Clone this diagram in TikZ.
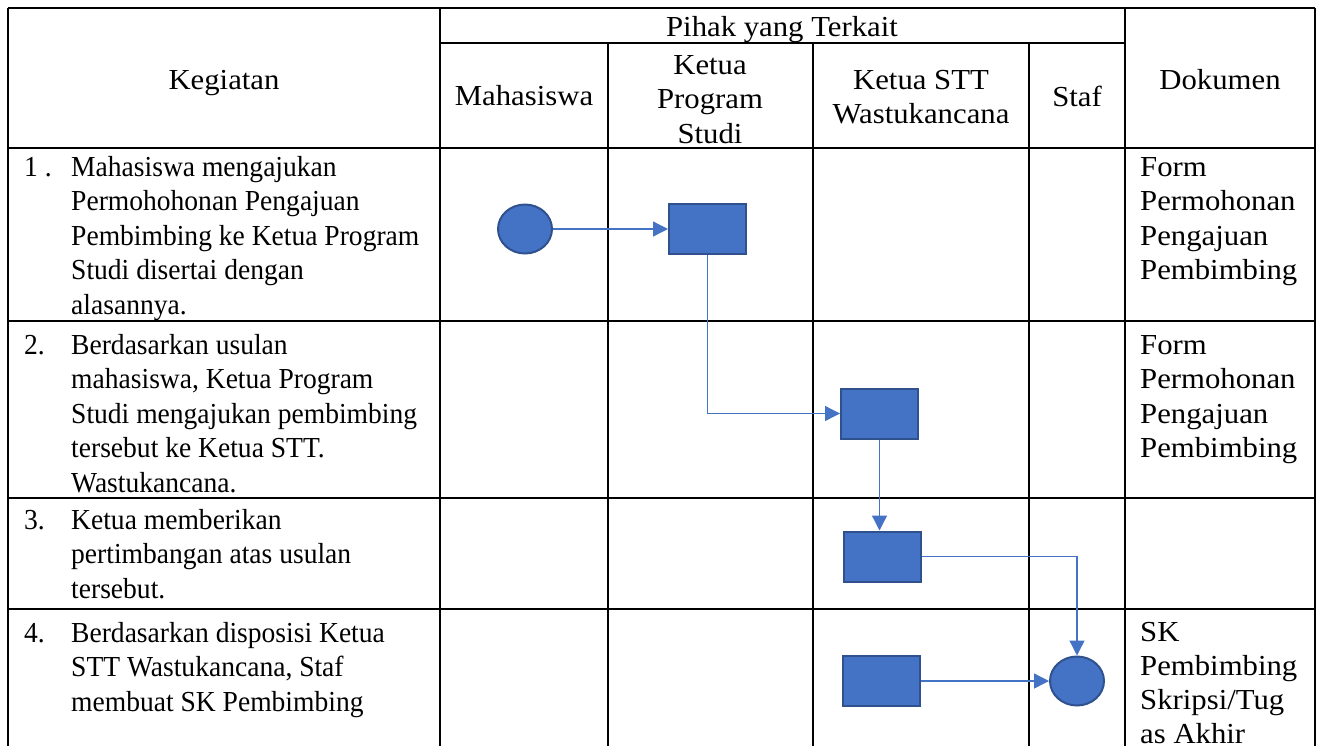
\documentclass[tikz,border=0pt]{standalone}
\usepackage{fontspec}
\setmainfont{Liberation Serif}[FakeStretch=0.95]
\newfontfamily\widefont{Liberation Serif}[FakeStretch=1.06]
\usetikzlibrary{arrows.meta,shapes.geometric}
\definecolor{shapefill}{HTML}{4472C4}
\definecolor{shapeedge}{HTML}{2F528F}
\definecolor{connclr}{HTML}{4472C4}
\newcommand{\cellL}[1]{\begin{tabular}[t]{@{}l@{}}#1\end{tabular}}
\newcommand{\cellC}[1]{\begin{tabular}[t]{@{}c@{}}#1\end{tabular}}
\begin{document}
\begin{tikzpicture}[x=1pt,y=-1pt,
  grid/.style={line width=2.6pt,black},
  proc/.style={draw=shapeedge,fill=shapefill,line width=2pt,minimum width=77pt,minimum height=50pt,inner sep=0pt},
  term/.style={ellipse,draw=shapeedge,fill=shapefill,line width=2pt,minimum width=54pt,minimum height=49pt,inner sep=0pt},
  conn/.style={draw=connclr,line width=1.3pt,-{Triangle[length=15pt,width=15pt]}},
  txt/.style={font=\fontsize{29}{34.5}\selectfont,inner sep=0pt,anchor=base west},
  wtxt/.style={font=\widefont\fontsize{29}{34.5}\selectfont,inner sep=0pt,anchor=base west},
  wtxtb/.style={font=\widefont\fontsize{29}{34}\selectfont,inner sep=0pt,anchor=base west},
  ctxt/.style={font=\widefont\fontsize{29}{34.5}\selectfont,inner sep=0pt,anchor=base},
  num/.style={font=\fontsize{29}{34.5}\selectfont,inner sep=0pt,anchor=base west}]
\useasboundingbox (0,0) rectangle (1324,745);
% table grid
\draw[grid] (8,8) -- (1315,8);
\draw[grid] (440,43) -- (1125,43);
\draw[grid] (8,148) -- (1315,148);
\draw[grid] (8,321) -- (1315,321);
\draw[grid] (8,498) -- (1315,498);
\draw[grid] (8,609) -- (1315,609);
\draw[grid] (8,8) -- (8,746);
\draw[grid] (440,8) -- (440,746);
\draw[grid] (608,43) -- (608,746);
\draw[grid] (813,43) -- (813,746);
\draw[grid] (1029,43) -- (1029,746);
\draw[grid] (1125,8) -- (1125,746);
\draw[grid] (1315,8) -- (1315,746);
% header
\node[ctxt] (hkeg) at (224,89) {Kegiatan};
\node[ctxt] (hpihak) at (782,36) {Pihak yang Terkait};
\node[ctxt] (hmhs) at (524,105) {Mahasiswa};
\node[ctxt] (hkps) at (710,74) {\cellC{Ketua\\Program\\Studi}};
\node[ctxt] (hstt) at (921,89) {\cellC{Ketua STT\\Wastukancana}};
\node[ctxt] (hstaf) at (1077,106) {Staf};
\node[ctxt] (hdok) at (1220,89) {Dokumen};
% rows
\node[num] (n1) at (24,176) {1 .};
\node[txt] (k1) at (71,176) {\cellL{Mahasiswa mengajukan\\Permohohonan Pengajuan\\Pembimbing ke Ketua Program\\Studi disertai dengan\\alasannya.}};
\node[num] (n2) at (24,354) {2.};
\node[txt] (k2) at (71,354) {\cellL{Berdasarkan usulan\\mahasiswa, Ketua Program\\Studi mengajukan pembimbing\\tersebut ke Ketua STT.\\Wastukancana.}};
\node[num] (n3) at (24,529) {3.};
\node[txt] (k3) at (71,529) {\cellL{Ketua memberikan\\pertimbangan atas usulan\\tersebut.}};
\node[num] (n4) at (24,642) {4.};
\node[txt] (k4) at (71,642) {\cellL{Berdasarkan disposisi Ketua\\STT Wastukancana, Staf\\membuat SK Pembimbing}};
\node[wtxt] (d1) at (1140,176) {\cellL{Form\\Permohonan\\Pengajuan\\Pembimbing}};
\node[wtxt] (d2) at (1140,354) {\cellL{Form\\Permohonan\\Pengajuan\\Pembimbing}};
\node[wtxtb] (d4) at (1140,641) {\cellL{SK\\Pembimbing\\Skripsi/Tug\\as Akhir}};
% flow shapes
\node[term] (c1) at (525,229) {};
\node[proc] (r1) at (707.5,229) {};
\node[proc] (r2) at (879.5,413.5) {};
\node[proc] (r3) at (882,556.5) {};
\node[proc] (r4) at (881.5,681) {};
\node[term] (c2) at (1077,681) {};
% connectors
\draw[conn] (c1.east) -- (r1.west);
\draw[conn] (r1.south) |- (r2.west);
\draw[conn] (r2.south) -- (r2.south |- r3.north);
\draw[conn] (r3.east) -| (c2.north);
\draw[conn] (r4.east) -- (c2.west);
\end{tikzpicture}
\end{document}
